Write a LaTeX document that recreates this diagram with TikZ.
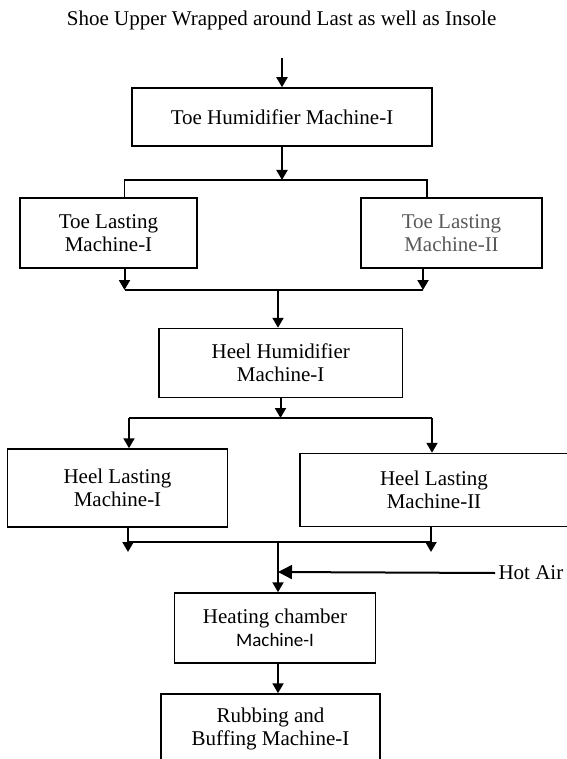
\documentclass[tikz,border=0pt]{standalone}
\usepackage{fontspec}
\setmainfont{Liberation Serif}
\newfontfamily\calibrifont{Carlito}
\usetikzlibrary{arrows.meta, positioning}
\tikzset{
flow/.style={-{Triangle[width=11pt,length=10pt]}, line width=2pt}, % arrows between the machines
link/.style={line width=1.6pt}, % plain branch and join lines
machine/.style={draw, line width=1.5pt, align=center, inner sep=2pt}, % one box for each machine
every node/.style={font=\fontsize{21}{23}\selectfont}, % Times sized text
}

\begin{document}
\begin{tikzpicture}[x=1pt, y=-1pt]
                \useasboundingbox (0,0) rectangle (566,759);
                \node (title) at (281.6,20) {Shoe Upper Wrapped around Last as well as Insole};
                \coordinate (start) at (282,58);
                \node[machine, minimum width=300, minimum height=58] (hum1) at (282,117) {Toe Humidifier Machine-I};
                \node[machine, minimum width=177, minimum height=70] (toe1) at (108.5,233) {Toe Lasting\\Machine-I};
                \node[machine, minimum width=181, minimum height=70, text=black!65] (toe2) at (451.5,233) {Toe Lasting\\Machine-II};
                \node[machine, minimum width=243.5, minimum height=69] (hum2) at (280.7,363) {Heel Humidifier\\Machine-I};
                \node[machine, minimum width=220, minimum height=78] (heel1) at (117.5,488) {Heel Lasting\\Machine-I};
                \node[machine, minimum width=268, minimum height=73] (heel2) at (434,490) {Heel Lasting\\Machine-II};
                \node[machine, minimum width=201, minimum height=70] (heat) at (275,628) {Heating chamber\\{\calibrifont\fontsize{19}{22}\selectfont Machine-I}};
                \node[machine, minimum width=219, minimum height=69] (rub) at (270.5,728.5) {Rubbing and\\Buffing Machine-I};
                \node[anchor=west] (air) at (495,573) {Hot Air};
                % branch points
                \coordinate (s1) at (282,180);
                \coordinate (s1l) at (124.5,180);
                \coordinate (s1r) at (427,180);
                \coordinate (j1l) at (124.5,290);
                \coordinate (j1r) at (423,290);
                \coordinate (j1) at (278,290);
                \coordinate (s2) at (280.5,418);
                \coordinate (s2l) at (129,418);
                \coordinate (s2r) at (432,418);
                \coordinate (j2l) at (128,542);
                \coordinate (j2r) at (431,542);
                \coordinate (e2l) at (128,552);
                \coordinate (e2r) at (431,552);
                \coordinate (j2) at (278,542);
                \coordinate (hot) at (278,572);
                \draw[flow] (start) -- (start |- hum1.north);
                \draw[flow] (s1 |- hum1.south) -- (s1);
                \draw[link] (s1l |- toe1.north) -- (s1l) -- (s1r) -- (s1r |- toe2.north);
                \draw[flow] (j1l |- toe1.south) -- (j1l);
                \draw[flow] (j1r |- toe2.south) -- (j1r);
                \draw[link] (j1l) -- (j1r);
                \draw[flow] (j1) -- (j1 |- hum2.north);
                \draw[flow] (s2 |- hum2.south) -- (s2);
                \draw[link] (s2l) -- (s2r);
                \draw[flow] (s2l) -- (s2l |- heel1.north);
                \draw[flow] (s2r) -- (s2r |- heel2.north);
                \draw[flow] (j2l |- heel1.south) -- (e2l);
                \draw[flow] (j2r |- heel2.south) -- (e2r);
                \draw[link] (j2l) -- (j2r);
                \draw[flow] (j2) -- (j2 |- heat.north);
                \draw[flow, -{Triangle[width=14pt,length=14pt]}] (air.west) -- (hot);
                \draw[flow] (j2 |- heat.south) -- (j2 |- rub.north);
                \end{tikzpicture}
\end{document}
